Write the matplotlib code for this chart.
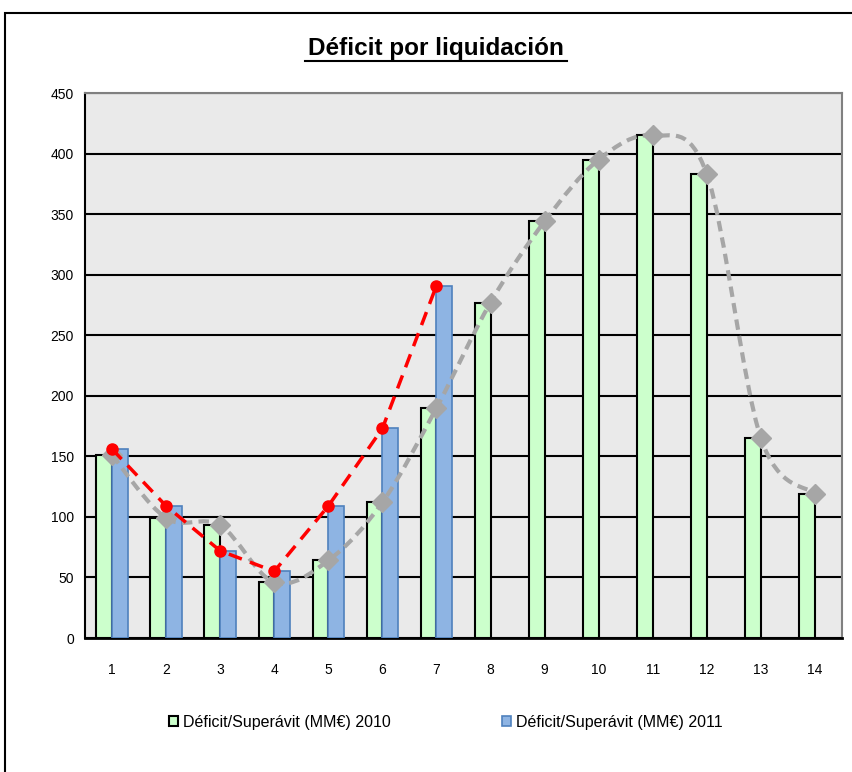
import numpy as np
import matplotlib.pyplot as plt
from matplotlib.path import Path
from matplotlib.patches import PathPatch, Rectangle

plt.rcParams['font.family'] = ['Liberation Sans', 'DejaVu Sans']

# Datos
liquidaciones = np.arange(1, 15)
deficit_2010 = [151, 99, 93, 46, 64, 112, 190, 277, 344, 395, 415, 383, 165, 119]
deficit_2011 = [156, 109, 72, 55, 109, 173, 291]

def curva_suave(xs, ys):
    # curva tipo Bezier (suavizado como en Excel)
    p = np.column_stack([xs, ys]).astype(float)
    verts = [p[0]]
    codes = [Path.MOVETO]
    n = len(p)
    for i in range(n - 1):
        p0 = p[i - 1] if i > 0 else p[i]
        p3 = p[i + 2] if i + 2 < n else p[i + 1]
        c1 = p[i] + (p[i + 1] - p0) / 6
        c2 = p[i + 1] - (p3 - p[i]) / 6
        verts += [c1, c2, p[i + 1]]
        codes += [Path.CURVE4] * 3
    return Path(verts, codes)

fig = plt.figure(figsize=(8.53, 7.72), dpi=100)
ax = fig.add_axes([85 / 853, 1 - 638 / 772, 757 / 853, 545 / 772])

# marco exterior
fig.patches.append(Rectangle((5 / 853, -0.01), 1.0, 1 - 13 / 772 + 0.01,
                             transform=fig.transFigure, fill=False,
                             edgecolor='black', linewidth=1.5))

ax.set_facecolor('#EAEAEA')
w = 0.29
x11 = liquidaciones[:len(deficit_2011)]
ax.bar(liquidaciones - w / 2, deficit_2010, width=w, color='#CCFFCC',
       edgecolor='black', linewidth=1.5, label='Déficit/Superávit (MM€) 2010', zorder=3)
ax.bar(x11 + w / 2, deficit_2011, width=w, color='#8EB4E3',
       edgecolor='#4F81BD', linewidth=1.2, label='Déficit/Superávit (MM€) 2011', zorder=3)

# línea roja 2011 y curva gris 2010
ax.plot(x11, deficit_2011, color='red', linestyle=(0, (4, 2.5)), linewidth=2.5,
        marker='o', markersize=8, zorder=5)
ax.add_patch(PathPatch(curva_suave(liquidaciones, deficit_2010), fill=False,
                       edgecolor='#A6A6A6', linestyle=(0, (2.5, 1.5)), linewidth=3, zorder=4))
ax.plot(liquidaciones, deficit_2010, linestyle='none', marker='D', markersize=10,
        color='#A6A6A6', zorder=4)

ax.set_xlim(0.5, 14.5)
ax.set_ylim(0, 450)
ax.set_yticks(range(0, 451, 50))
ax.set_xticks(liquidaciones)
ax.yaxis.grid(True, color='black', linewidth=1.5, zorder=1)
ax.set_axisbelow(True)
ax.tick_params(axis='both', length=0, labelsize=10)
ax.tick_params(axis='x', pad=18)
ax.tick_params(axis='y', pad=8)
for s in ['top', 'right']:
    ax.spines[s].set_color('#808080')
    ax.spines[s].set_linewidth(1.5)
ax.spines['left'].set_linewidth(1.5)
ax.spines['bottom'].set_linewidth(2)

fig.text(436 / 853, 1 - 48 / 772, 'Déficit por liquidación', ha='center', va='center',
         fontsize=17.5, fontweight='bold')
fig.add_artist(plt.Line2D([305 / 853, 567 / 853], [1 - 61 / 772, 1 - 61 / 772],
                          color='black', linewidth=1.5, transform=fig.transFigure))

fig.legend(loc='center', bbox_to_anchor=(446 / 853, 1 - 722 / 772), ncol=2,
           frameon=False, fontsize=11.5, handlelength=0.55, handleheight=0.55,
           handletextpad=0.3, columnspacing=7.0)

fig.savefig('out.png', dpi=100)
